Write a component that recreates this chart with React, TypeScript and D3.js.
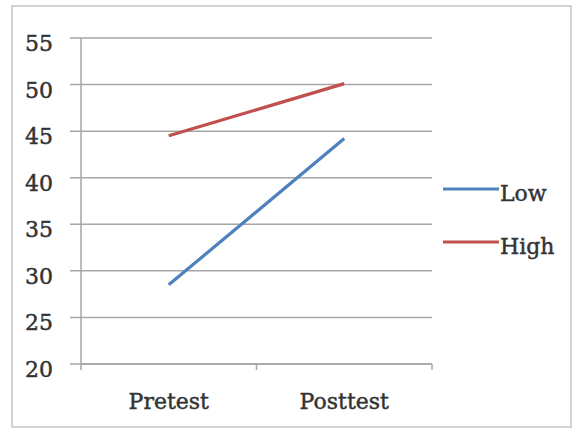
import React from "react";
import * as d3 from "d3";

const categories = ["Pretest", "Posttest"];
const lowValues = [28.5, 44.2];
const highValues = [44.5, 50.1];
const yTicks = [20, 25, 30, 35, 40, 45, 50, 55];
const seriesNames = ["Low", "High"];

const W = 575;
const H = 429;
const FONT = "'DejaVu Serif', serif";

export default function App() {
  const plotLeft = 81;
  const plotRight = 432;
  const plotTop = 38;
  const plotBottom = 364;

  const x = d3.scaleBand<string>().domain(categories).range([plotLeft, plotRight]).paddingInner(0).paddingOuter(0);
  const y = d3.scaleLinear().domain([20, 55]).range([plotBottom, plotTop]);
  const cx = (c: string) => (x(c) as number) + x.bandwidth() / 2;

  const line = d3
    .line<number>()
    .x((_, i) => cx(categories[i]))
    .y((v) => y(v));

  const series = [
    { name: seriesNames[0], values: lowValues, color: "#4F81BD" },
    { name: seriesNames[1], values: highValues, color: "#C0504D" },
  ];

  const catTicks = [plotLeft, ...categories.map((c) => (x(c) as number) + x.bandwidth())];
  const textColor = "#333333";
  const gridColor = "#a6a6a6";
  const textProps = {
    fontFamily: FONT,
    fontSize: 22,
    fill: textColor,
    stroke: textColor,
    strokeWidth: 0.45,
  };

  return (
    <svg width={W} height={H} style={{ position: "absolute", left: 0, top: 0, background: "#fff" }}>
      <rect x={0} y={0} width={W} height={H} fill="#fff" />
      <rect x={12} y={6} width={559} height={421} fill="#fff" stroke="#c4c4c4" strokeWidth={1.5} />
      {yTicks.map((t) => (
        <g key={t}>
          <line x1={plotLeft - 11} x2={plotRight} y1={y(t)} y2={y(t)} stroke={gridColor} strokeWidth={1.5} />
          <text x={53} y={y(t) + 13} textAnchor="end" {...textProps}>
            {t}
          </text>
        </g>
      ))}
      <line x1={plotLeft} x2={plotLeft} y1={plotTop} y2={plotBottom} stroke={gridColor} strokeWidth={1.5} />
      <line x1={plotLeft} x2={plotRight} y1={plotBottom} y2={plotBottom} stroke={gridColor} strokeWidth={1.5} />
      {catTicks.map((tx, i) => (
        <line key={i} x1={tx} x2={tx} y1={plotBottom} y2={plotBottom + 6} stroke={gridColor} strokeWidth={1.5} />
      ))}
      {categories.map((c) => (
        <text key={c} x={cx(c)} y={409} textAnchor="middle" {...textProps}>
          {c}
        </text>
      ))}
      {series.map((s) => (
        <path key={s.name} d={line(s.values) as string} fill="none" stroke={s.color} strokeWidth={3.2} />
      ))}
      {series.map((s, i) => {
        const ly = 189 + i * 53;
        return (
          <g key={s.name}>
            <line x1={443} x2={499} y1={ly} y2={ly} stroke={s.color} strokeWidth={3.2} />
            <text x={500} y={ly + 12} {...textProps}>
              {s.name}
            </text>
          </g>
        );
      })}
    </svg>
  );
}
